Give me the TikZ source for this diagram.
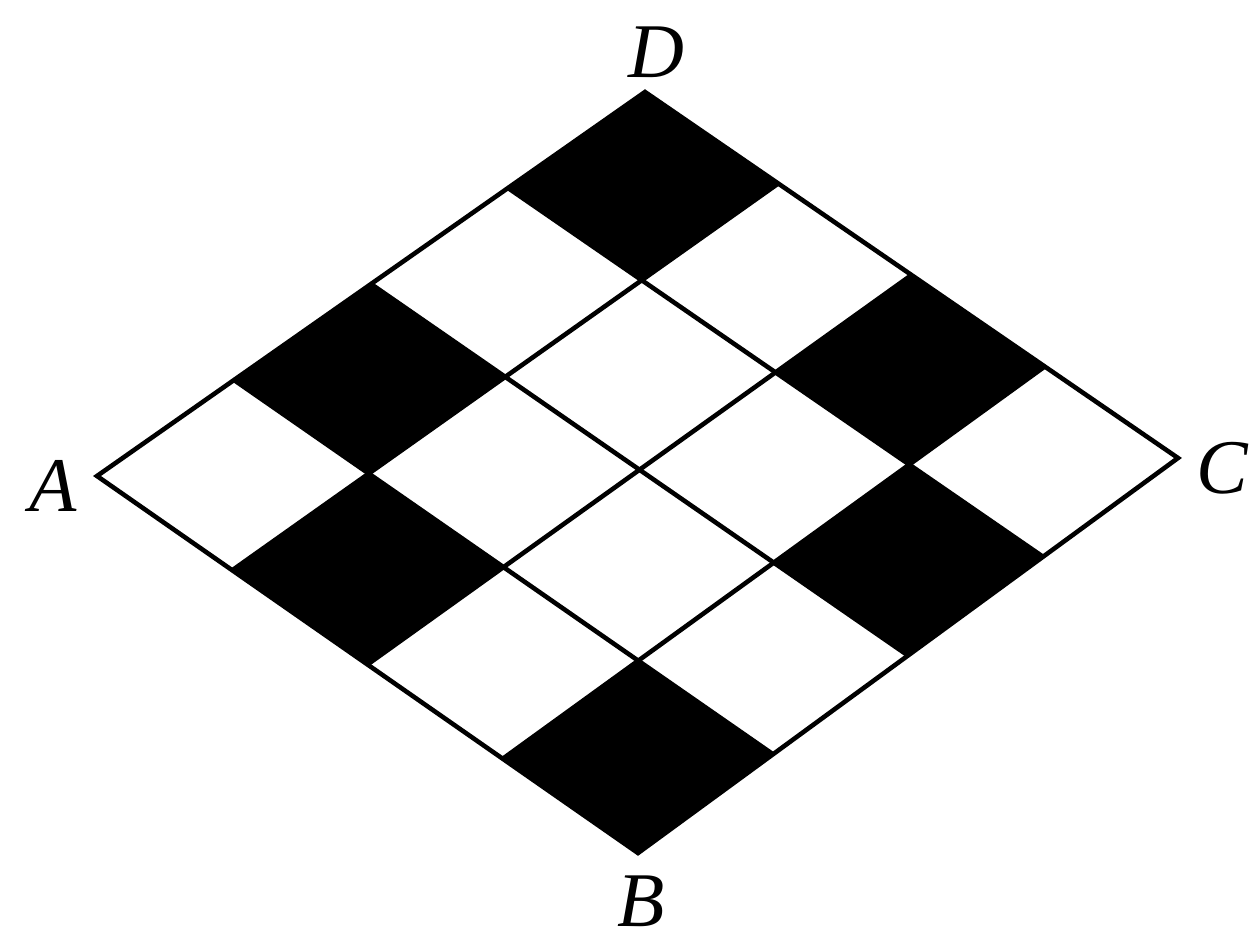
\documentclass[tikz,border=0pt]{standalone}
\usepackage{fontspec}
\setmainfont{Liberation Serif}
\usetikzlibrary{calc}
\begin{document}
\begin{tikzpicture}[x=0.01cm,y=-0.01cm]
        \tikzstyle{edge}=[line width=1.3pt, line join=miter]
        \tikzstyle{dark}=[fill=black]
        \tikzstyle{lbl}=[font=\fontsize{22}{26}\selectfont\itshape, inner sep=0pt]

        \useasboundingbox (0,0) rectangle (1255,942);

        \coordinate (A) at (97,476);
        \coordinate (B) at (638,853);
        \coordinate (C) at (1178,458);
        \coordinate (D) at (645,92);

        % grid points p<s><t>: s steps from A towards D, t from A towards B
        \foreach \s in {0,...,4} {
            \coordinate (l\s) at ($(A)!\s/4!(D)$);
            \coordinate (r\s) at ($(B)!\s/4!(C)$);
            \foreach \t in {0,...,4}
                \coordinate (p\s\t) at ($(l\s)!\t/4!(r\s)$);
        }

        % black cells
        \foreach \i/\j/\ii/\jj in {3/0/4/1, 1/0/2/1, 0/1/1/2, 0/3/1/4, 3/2/4/3, 2/3/3/4}
            \fill[dark] (p\i\j) -- (p\ii\j) -- (p\ii\jj) -- (p\i\jj) -- cycle;

        % grid
        \foreach \k in {1,2,3} {
            \draw[edge] (l\k) -- (r\k);
            \draw[edge] (p0\k) -- (p4\k);
        }
        \draw[edge] (A) -- (B) -- (C) -- (D) -- cycle;

        \node[lbl] (a) at (53,486) {A};
        \node[lbl] (b) at (641,901) {B};
        \node[lbl] (c) at (1222,468) {C};
        \node[lbl] (d) at (656,52) {D};
    \end{tikzpicture}
\end{document}
